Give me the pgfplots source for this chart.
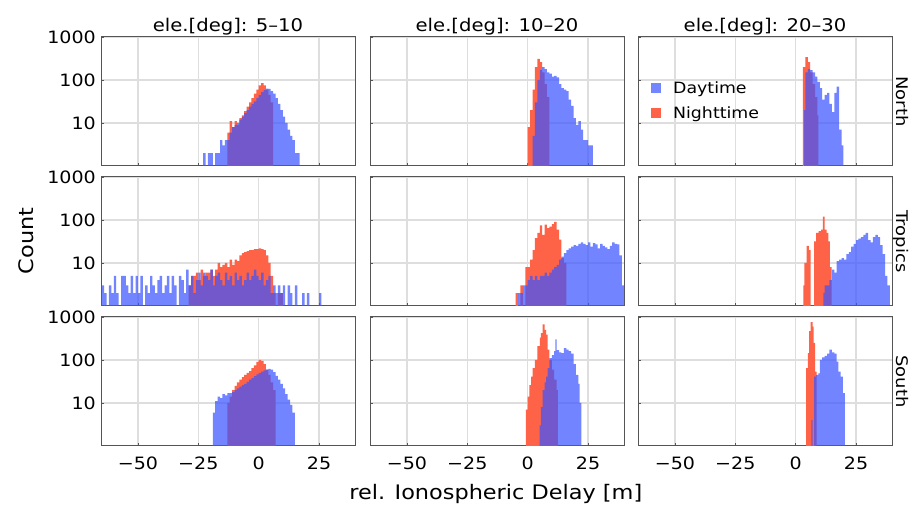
\documentclass[border=0pt]{standalone}
\usepackage{fontspec}
\setmainfont{DejaVu Sans}[FakeStretch=1.12]
\usepackage{pgfplots}
\pgfplotsset{compat=1.18}
\definecolor{dayblue}{RGB}{60,85,255}
\definecolor{nightred}{RGB}{255,99,71}
\definecolor{gridgray}{RGB}{222,222,222}
\definecolor{framegray}{RGB}{85,85,85}
\pgfplotsset{
  every axis/.append style={anchor=south west, scale only axis, width=254bp, height=129bp,
    xmin=-65.3, xmax=39.9, ymin=1, ymax=1000,
    xtick={-50,-25,0,25}, ytick={10,100,1000},
    xmajorgrids, ymajorgrids,
    major grid style={draw=gridgray, line width=1.3bp},
    axis line style={draw=framegray, line width=1bp},
    tick align=inside, major tick length=3bp, minor tick length=0pt,
    tick style={draw=framegray, line width=0.8bp},
    xtick pos=bottom, ytick pos=left,
    tick label style={font=\fontsize{17bp}{19bp}\selectfont, text=black},
    xticklabel style={anchor=north, inner sep=0pt, yshift=-11bp},
    yticklabel style={anchor=east, inner sep=0pt, xshift=-5bp},
  },
  nightbars/.style={const plot mark left, draw=none, fill=nightred, forget plot},
  daybars/.style={const plot mark left, draw=none, fill=dayblue, fill opacity=0.72, forget plot},
}
\begin{document}
\begin{tikzpicture}[x=1bp,y=1bp]
\useasboundingbox (0,0) rectangle (916,507);
% ---------------- Row 1: North ----------------
\begin{axis}[ymode=log, at={(101bp,341bp)}, xticklabels={}, yticklabels={10,100,1000}]
\addplot[nightbars] coordinates {(-13,6)(-12,11)(-11,8)(-10,11)(-9,9)(-8,13)(-7,15)(-6,19)(-5,24)(-4,30)(-3,38)(-2,48)(-1,60)(0,75)(1,85)(2,75)(3,60)(4,45)(5,30)(6,1)} \closedcycle;
\addplot[daybars] coordinates {(-23,2)(-22,1)(-21,2)(-20,2)(-19,1)(-18,2)(-17,2)(-16,4)(-15,3)(-14,4)(-13,4)(-12,6)(-11,8)(-10,9)(-9,10)(-8,12)(-7,14)(-6,17)(-5,20)(-4,24)(-3,28)(-2,32)(-1,38)(0,45)(1,52)(2,58)(3,63)(4,62)(5,55)(6,48)(7,38)(8,28)(9,20)(10,14)(11,10)(12,7)(13,5)(14,4)(15,2)(16,2)(17,1)} \closedcycle;
\end{axis}
\begin{axis}[ymode=log, at={(370bp,341bp)}, xticklabels={}, yticklabels={}]
\addplot[nightbars] coordinates {(0,8)(1,20)(2,60)(3,200)(4,310)(5,260)(6,150)(7,80)(8,40)(9,1)} \closedcycle;
\addplot[daybars] coordinates {(2,5)(3,30)(4,100)(5,170)(6,200)(7,180)(8,150)(9,140)(10,120)(11,125)(12,115)(13,80)(14,65)(15,60)(16,55)(17,35)(18,25)(19,13)(20,9)(21,11)(22,7)(23,4)(24,4)(25,3)(26,3)(27,1)} \closedcycle;
\end{axis}
\begin{axis}[ymode=log, at={(638bp,341bp)}, xticklabels={}, yticklabels={},
  legend style={draw=none, fill=none, at={(0.051,0.507)}, anchor=west, inner sep=0pt,
    font=\fontsize{15.5bp}{18bp}\selectfont, row sep=8bp},
  legend cell align=left,
  legend image code/.code={\fill[#1, draw=none] (0bp,-5bp) rectangle (10bp,5bp); \path[draw=none, fill=none] (0bp,0bp) -- (20bp,0bp);}]
\addlegendimage{fill=dayblue!72!white}
\addlegendentry{Daytime}
\addlegendimage{fill=nightred}
\addlegendentry{Nighttime}
\addplot[nightbars] coordinates {(3,200)(4,340)(5,260)(6,150)(7,80)(8,40)(9,15)(9.4,1)} \closedcycle;
\addplot[daybars] coordinates {(3.5,20)(4,150)(5,180)(6,170)(7,150)(8,120)(9,90)(10,65)(11,35)(12,45)(13,50)(14,28)(15,18)(16,50)(17,70)(18,7)(19,3)(19.8,1)} \closedcycle;
\end{axis}
% ---------------- Row 2: Tropics ----------------
\begin{axis}[ymode=log, at={(101bp,201bp)}, xticklabels={}, yticklabels={10,100,1000}]
\addplot[nightbars] coordinates {(-29,3)(-28,5)(-27,5)(-26,6)(-25,4)(-24,7)(-23,5)(-22,6)(-21,6)(-20,7)(-19,5)(-18,7)(-17,10)(-16,8)(-15,9)(-14,10)(-13,8)(-12,12)(-11,9)(-10,12)(-9,11)(-8,15)(-7,17)(-6,18)(-5,19)(-4,20)(-3,20)(-2,21)(-1,21)(0,22)(1,21)(2,20)(3,15)(4,10)(5,5)(6,2)(7,1)(8,2)(9,2)(10,1)} \closedcycle;
\addplot[daybars] coordinates {(-66,2)(-65,3)(-64,2)(-63,1)(-62,3)(-61,2)(-60,5)(-59,2)(-58,1)(-57,5)(-56,5)(-55,3)(-54,2)(-53,5)(-52,2)(-51,5)(-50,2)(-49,5)(-48,1)(-47,3)(-46,2)(-45,5)(-44,3)(-43,2)(-42,4)(-41,5)(-40,2)(-39,3)(-38,5)(-37,2)(-36,5)(-35,3)(-34,1)(-33,5)(-32,4)(-31,2)(-30,7)(-29,3)(-28,5)(-27,2)(-26,4)(-25,6)(-24,3)(-23,6)(-22,5)(-21,4)(-20,7)(-19,3)(-18,5)(-17,6)(-16,4)(-15,3)(-14,6)(-13,4)(-12,5)(-11,3)(-10,6)(-9,4)(-8,5)(-7,3)(-6,4)(-5,6)(-4,4)(-3,5)(-2,7)(-1,5)(0,4)(1,6)(2,3)(3,4)(4,5)(5,2)(6,3)(7,2)(8,3)(9,2)(10,3)(11,1)(12,3)(13,2)(14,1)(15,3)(16,1)(17,1)(18,2)(19,1)(20,2)(21,1)(22,1)(23,1)(24,1)(25,2)(26,1)} \closedcycle;
\end{axis}
\begin{axis}[ymode=log, at={(370bp,201bp)}, xticklabels={}, yticklabels={}]
\addplot[nightbars] coordinates {(-5,2)(-4,1)(-3,3)(-2,1)(-1,8)(0,8)(1,12)(2,20)(3,38)(4,50)(5,75)(6,45)(7,78)(8,65)(9,70)(10,80)(11,90)(12,60)(13,35)(14,13)(15,10)(16,1)} \closedcycle;
\addplot[daybars] coordinates {(-4,2)(-3,2)(-2,3)(-1,3)(0,4)(1,5)(2,4)(3,5)(4,4)(5,5)(6,5)(7,6)(8,5)(9,6)(10,7)(11,8)(12,9)(13,12)(14,14)(15,17)(16,20)(17,22)(18,24)(19,26)(20,25)(21,28)(22,30)(23,28)(24,26)(25,30)(26,24)(27,29)(28,27)(29,22)(30,28)(31,25)(32,23)(33,21)(34,25)(35,30)(36,28)(37,27)(38,15)(39,3)(40,1)} \closedcycle;
\end{axis}
\begin{axis}[ymode=log, at={(638bp,201bp)}, xticklabels={}, yticklabels={}]
\addplot[nightbars] coordinates {(3.2,3)(3.6,10)(4.5,25)(5.5,20)(6.2,1)(7.6,32)(8.5,50)(9.5,55)(10.5,60)(11.3,120)(12,60)(12.8,50)(13.5,32)(14.2,8)(14.9,1)} \closedcycle;
\addplot[daybars] coordinates {(11.5,2)(12,3)(13,3)(14,4)(15,7)(16,6)(17,11)(18,12)(19,13)(20,12)(21,16)(22,18)(23,24)(24,28)(25,34)(26,37)(27,40)(28,45)(29,50)(30,34)(31,30)(32,40)(33,45)(34,40)(35,26)(36,16)(37,5)(38,3)(39,1)} \closedcycle;
\end{axis}
% ---------------- Row 3: South ----------------
\begin{axis}[ymode=log, at={(101bp,61bp)}, xticklabels={−50,−25,0,25}, yticklabels={10,100,1000}]
\addplot[nightbars] coordinates {(-13,10)(-12,14)(-11,20)(-10,25)(-9,30)(-8,35)(-7,40)(-6,45)(-5,50)(-4,55)(-3,65)(-2,75)(-1,90)(0,100)(1,95)(2,80)(3,60)(4,45)(5,30)(6,20)(7,1)} \closedcycle;
\addplot[daybars] coordinates {(-19,6)(-18,11)(-17,14)(-16,13)(-15,16)(-14,15)(-13,17)(-12,17)(-11,18)(-10,20)(-9,22)(-8,24)(-7,26)(-6,28)(-5,31)(-4,35)(-3,38)(-2,42)(-1,46)(0,50)(1,54)(2,57)(3,60)(4,62)(5,60)(6,52)(7,43)(8,35)(9,28)(10,22)(11,16)(12,12)(13,9)(14,6)(15,1)} \closedcycle;
\end{axis}
\begin{axis}[ymode=log, at={(370bp,61bp)}, xticklabels={−50,−25,0,25}, yticklabels={}]
\addplot[nightbars] coordinates {(-0.7,7)(0,14)(0.7,26)(1.4,41)(2,65)(3,100)(4,210)(5,330)(5.5,420)(6.2,670)(7,500)(7.6,390)(8.3,175)(9,100)(10,60)(11,35)(12,20)(12.5,1)} \closedcycle;
\addplot[daybars] coordinates {(4.9,3)(5.5,8)(6.2,20)(7,30)(7.6,41)(8.3,65)(9,110)(10,130)(11,160)(11.5,300)(12,170)(13,150)(14,145)(15,190)(16,175)(17,160)(18,140)(19,80)(20,45)(21,28)(21.5,10)(22.2,1)} \closedcycle;
\end{axis}
\begin{axis}[ymode=log, at={(638bp,61bp)}, xticklabels={−50,−25,0,25}, yticklabels={}]
\addplot[nightbars] coordinates {(4.3,65)(5,145)(5.6,470)(6.2,760)(7,600)(7.4,250)(8,54)(8.7,1)} \closedcycle;
\addplot[daybars] coordinates {(6.5,4)(7,1)(7.6,41)(8.5,45)(9.4,49)(10,100)(11,115)(12,125)(13,140)(14,175)(15,150)(16,140)(17,92)(17.7,54)(18.6,41)(19.5,17)(20.4,1)} \closedcycle;
\end{axis}
% ---------------- labels ----------------
\begin{scope}[every node/.style={font=\fontsize{17.5bp}{20bp}\selectfont, inner sep=0pt}]
\node[anchor=base] at (228,475.3) {ele.[deg]: 5–10};
\node[anchor=base] at (497,475.3) {ele.[deg]: 10–20};
\node[anchor=base] at (765,475.3) {ele.[deg]: 20–30};
\end{scope}
\begin{scope}[every node/.style={font=\fontsize{16bp}{18bp}\selectfont, inner sep=0pt, rotate=-90, anchor=base}]
\node at (896.7,405.5) {North};
\node at (896.7,265.5) {Tropics};
\node at (896.7,125.5) {South};
\end{scope}
\node[font=\fontsize{20bp}{22bp}\selectfont, inner sep=0pt, rotate=90, anchor=base] at (33.3,266) {Count};
\node[font=\fontsize{20bp}{22bp}\selectfont, inner sep=0pt, anchor=base] at (495.8,7) {rel. Ionospheric Delay [m]};
\end{tikzpicture}
\end{document}
